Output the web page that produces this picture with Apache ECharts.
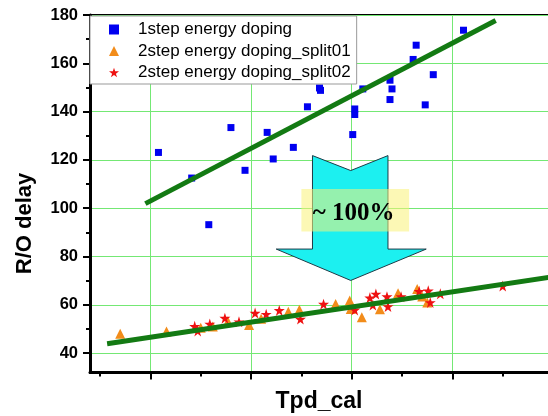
<!DOCTYPE html>
<html lang="en">
<head>
<meta charset="UTF-8">
<title>R/O delay vs Tpd_cal</title>
<style>html,body{margin:0;padding:0;background:#fff;}</style>
</head>
<body>
<div id="chart" style="width:548px;height:416px;"></div>
<script src="https://cdn.jsdelivr.net/npm/echarts@6.0.0/dist/echarts.min.js"></script>
<script>
  // ticks (the x axis carries no labels in the original)
  const xMajorTicks = [1, 2, 3, 4, 5];
  const xMinorTicks = [0.5, 1.5, 2.5, 3.5, 4.5];
  const yMajorTicks = [40, 60, 80, 100, 120, 140, 160, 180];
  const yMinorTicks = [50, 70, 90, 110, 130, 150, 170];

  const seriesNames = ['1step energy doping', '2step energy doping_split01', '2step energy doping_split02'];

  // [Tpd_cal, R/O delay]
  const step1 = [
    [1.08, 123.1], [1.41, 112.5], [1.58, 93.2], [1.80, 133.4], [1.94, 115.7],
    [2.16, 131.4], [2.22, 120.4], [2.42, 125.2], [2.56, 142.0], [2.68, 149.8],
    [2.69, 148.8], [3.01, 130.5], [3.03, 141.1], [3.03, 138.8], [3.11, 149.4],
    [3.38, 153.0], [3.40, 149.4], [3.38, 145.0], [3.61, 161.6], [3.64, 167.5],
    [3.73, 142.8], [3.81, 155.3], [4.11, 173.7]
  ];
  const split01 = [
    [0.70, 48.0], [1.16, 49.0], [1.50, 50.5], [1.62, 51.0], [1.77, 53.1],
    [1.98, 51.7], [2.10, 54.3], [2.37, 57.2], [2.48, 58.0], [2.84, 60.4],
    [2.98, 61.8], [2.99, 58.3], [3.10, 54.9], [3.28, 58.2], [3.46, 64.8],
    [3.65, 66.6], [3.70, 63.5], [3.75, 61.0]
  ];
  const split02 = [
    [1.44, 51.1], [1.47, 49.2], [1.59, 52.1], [1.74, 54.5], [1.88, 53.0],
    [2.04, 56.6], [2.15, 56.1], [2.28, 57.7], [2.49, 54.1], [2.72, 60.3],
    [3.03, 57.9], [3.18, 62.9], [3.24, 64.5], [3.21, 59.9], [3.35, 63.4],
    [3.36, 59.3], [3.49, 63.4], [3.67, 65.6], [3.76, 65.8], [3.78, 61.0],
    [3.88, 64.6], [4.50, 67.8]
  ];

  // fitted trend lines
  const fit1 = [[0.95, 101.9], [4.43, 177.7]];
  const fit2 = [[0.57, 43.9], [5.2, 72.9]];

  // annotation arrow + label, in data units
  const arrowShape = [
    [2.61, 121.8], [2.99, 115.6], [3.36, 121.8], [3.36, 83.1],
    [3.74, 83.1], [2.99, 70.1], [2.25, 83.1], [2.61, 83.1]
  ];
  const labelBox = [[2.50, 108.0], [3.57, 90.4]];
  const labelPos = [3.02, 98.0];
  const labelText = '~ 100%';

  const gridGreen = '#74e874';
  const fitGreen = '#137a13';

  function renderNote(params, api) {
    const pts = arrowShape.map(p => api.coord(p));
    const a = api.coord(labelBox[0]);
    const b = api.coord(labelBox[1]);
    const c = api.coord(labelPos);
    return {
      type: 'group',
      children: [
        {type: 'polygon', shape: {points: pts}, style: {fill: '#1cf0f0', stroke: '#1d3b47', lineWidth: 1}},
        {type: 'rect', shape: {x: a[0], y: a[1], width: b[0] - a[0], height: b[1] - a[1]},
          style: {fill: 'rgba(250,242,120,0.55)'}},
        {type: 'text', x: c[0], y: c[1], style: {
          text: labelText, fontFamily: '"Liberation Serif", "Times New Roman", serif',
          fontWeight: 'bold', fontSize: 25, fill: '#000', align: 'center', verticalAlign: 'middle'}}
      ]
    };
  }

  const option = {
    animation: false,
    textStyle: {fontFamily: 'Arial, "Liberation Sans", sans-serif'},
    grid: {
      left: 90, top: 15, width: 483.2, height: 357.5,
      show: true, borderColor: '#000', borderWidth: 2,
      containLabel: false, outerBoundsMode: 'none'
    },
    legend: {
      orient: 'vertical', left: 90, top: 16,
      data: seriesNames,
      itemWidth: 10, itemHeight: 10, itemGap: 4.5,
      padding: [5, 6, 3, 19],
      backgroundColor: '#fff', borderColor: '#999', borderWidth: 1,
      textStyle: {fontSize: 17, color: '#000', lineHeight: 17, padding: [0, 0, 0, 14]},
      z: 10
    },
    xAxis: [{
      type: 'value', min: 0.4, max: 5.2,
      axisLine: {show: true, onZero: false, lineStyle: {color: '#000', width: 3}},
      axisTick: {show: true, customValues: xMajorTicks, length: 7, lineStyle: {color: '#000', width: 2}},
      axisLabel: {show: false},
      splitLine: {show: true, lineStyle: {color: gridGreen, width: 1}}
    }, {
      type: 'value', min: 0.4, max: 5.2, position: 'bottom', offset: 0,
      axisLine: {show: false},
      axisTick: {show: true, customValues: xMinorTicks, length: 4, lineStyle: {color: '#000', width: 2}},
      axisLabel: {show: false},
      splitLine: {show: false}
    }],
    yAxis: [{
      type: 'value', min: 32, max: 180,
      axisLine: {show: true, onZero: false, lineStyle: {color: '#000', width: 3}},
      axisTick: {show: true, customValues: yMajorTicks, length: 7, lineStyle: {color: '#000', width: 2}},
      axisLabel: {show: true, customValues: yMajorTicks, margin: 12, color: '#000',
        fontWeight: 'bold', fontSize: 16.5},
      splitLine: {show: true, lineStyle: {color: gridGreen, width: 1}}
    }, {
      type: 'value', min: 32, max: 180, position: 'left', offset: 0,
      axisLine: {show: false},
      axisTick: {show: true, customValues: yMinorTicks, length: 4, lineStyle: {color: '#000', width: 2}},
      axisLabel: {show: false},
      splitLine: {show: false}
    }],
    graphic: [
      {type: 'text', x: 24.5, y: 223.5, rotation: Math.PI / 2,
        style: {text: 'R/O delay', fontFamily: 'Arial, "Liberation Sans", sans-serif', fontWeight: 'bold',
          fontSize: 22, fill: '#000', align: 'center', verticalAlign: 'middle'}},
      {type: 'text', x: 319, y: 401.5,
        style: {text: 'Tpd_cal', fontFamily: 'Arial, "Liberation Sans", sans-serif', fontWeight: 'bold',
          fontSize: 23, fill: '#000', align: 'center', verticalAlign: 'middle'}}
    ],
    series: [
      {name: seriesNames[0], type: 'scatter', data: step1, symbol: 'rect', symbolSize: 7,
        itemStyle: {color: '#0000f0', opacity: 1}, z: 2},
      {name: seriesNames[1], type: 'scatter', data: split01, symbol: 'triangle', symbolSize: 10,
        itemStyle: {color: '#f28c1a', opacity: 1}, z: 2},
      {name: seriesNames[2], type: 'scatter', data: split02, symbol: 'path://M50,0 L61.8,36.2 L100,36.2 L69.1,58.8 L80.9,95.1 L50,72.7 L19.1,95.1 L30.9,58.8 L0,36.2 L38.2,36.2 Z',
        symbolSize: 11, itemStyle: {color: '#ee1111', opacity: 1}, z: 2},
      {name: 'fit1', type: 'line', data: fit1, showSymbol: false, symbol: 'none',
        lineStyle: {color: fitGreen, width: 5}, z: 4, silent: true},
      {name: 'fit2', type: 'line', data: fit2, showSymbol: false, symbol: 'none',
        lineStyle: {color: fitGreen, width: 5}, z: 4, silent: true},
      {name: 'note', type: 'custom', data: [[3, 100]], renderItem: renderNote, clip: false, z: 3, silent: true}
    ]
  };

  const chart = echarts.init(document.getElementById('chart'));
  chart.setOption(option);
</script>
</body>
</html>
